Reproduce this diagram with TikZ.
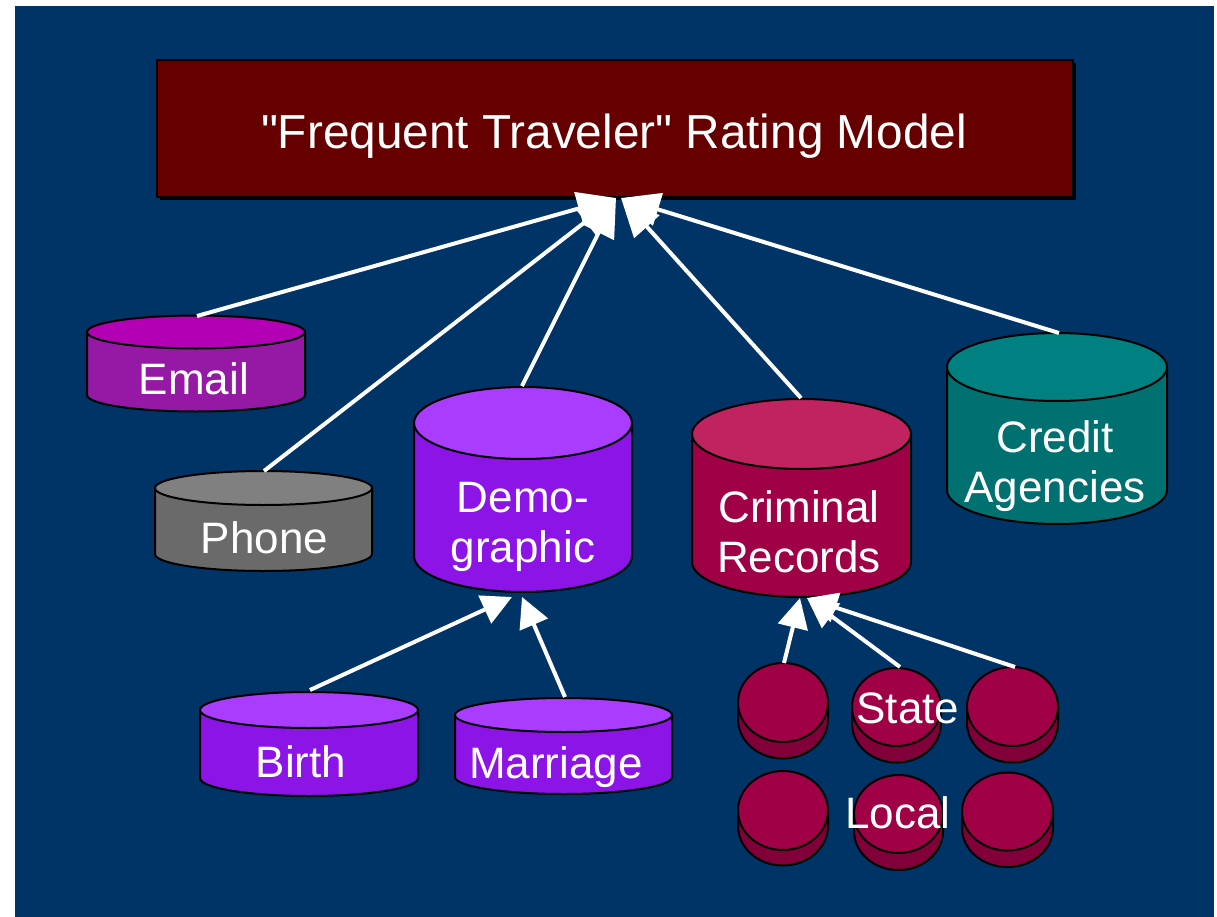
\documentclass[tikz,border=0pt]{standalone}
\usepackage{fontspec}
\setmainfont{Liberation Sans}[Ligatures=TeXOff]
\usetikzlibrary{arrows.meta}

\definecolor{slate}{HTML}{003366}
\definecolor{titlered}{HTML}{660000}
\definecolor{mailtop}{RGB}{180,0,180}
\definecolor{mailside}{RGB}{150,25,165}
\definecolor{phonetop}{RGB}{128,128,128}
\definecolor{phoneside}{RGB}{106,106,106}
\definecolor{violettop}{RGB}{170,60,255}
\definecolor{violetside}{RGB}{140,20,230}
\definecolor{crimtop}{RGB}{192,35,95}
\definecolor{crimside}{RGB}{160,0,70}
\definecolor{tealtop}{RGB}{0,128,128}
\definecolor{tealside}{RGB}{0,112,112}
\definecolor{disctop}{RGB}{160,0,70}
\definecolor{discside}{RGB}{130,0,58}

% A drum / database cylinder:
% #1 centre x, #2 x radius, #3 y of top ellipse, #4 y of bottom ellipse,
% #5 y radius, #6 top colour, #7 side colour
\newcommand\drum[7]{%
  \filldraw[outline, fill=#7] (#1-#2,#3) -- (#1-#2,#4)
    arc[start angle=180, end angle=360, x radius=#2*0.75pt, y radius=#5*0.75pt]
    -- (#1+#2,#3) -- cycle;
  \filldraw[outline, fill=#6] (#1,#3) ellipse[x radius=#2*0.75pt, y radius=#5*0.75pt];
}

\begin{document}
\begin{tikzpicture}[x=0.75pt, y=-0.75pt,
  outline/.style={draw=black, line width=1.5pt, line join=round},
  label/.style={text=white, inner sep=0pt, anchor=base,
                font=\fontsize{33}{37.5}\selectfont},
  titletext/.style={text=white, inner sep=0pt, anchor=base,
                font=\fontsize{35.8}{42}\selectfont},
  titlebox/.style={draw=black, line width=1.5pt, fill=titlered, inner sep=0pt,
                minimum width=687pt, minimum height=102.75pt},
  link/.style={draw=white, line width=3pt, -{Triangle[length=29pt,width=25pt]}},
  sublink/.style={draw=white, line width=3pt, -{Triangle[length=22.5pt,width=22.5pt]}}]

\useasboundingbox (0,0) rectangle (1217,917);
\fill[white] (0,0) rectangle (1217,917);
\fill[slate] (15,6) rectangle (1214,917);

% rating model box with its shadow
\fill[black] (160,63) rectangle (1076,200);
\node[titlebox] (model) at (615,128.5) {};
\node[titletext] (modeltext) at (614,148) {"Frequent Traveler" Rating Model};

% data sources
\drum{196}{109}{332}{395}{16.5}{mailtop}{mailside}
\drum{263.5}{108.5}{488}{554}{17}{phonetop}{phoneside}
\drum{523}{109}{423}{556}{36}{violettop}{violetside}
\drum{801.5}{109.5}{434}{562}{35}{crimtop}{crimside}
\drum{1057}{110}{367}{490}{34}{tealtop}{tealside}
\drum{309}{109}{710}{778}{18}{violettop}{violetside}
\drum{563.5}{108.5}{715}{777}{17}{violettop}{violetside}

% state and local record discs
\drum{783}{45}{702.5}{719}{39.5}{disctop}{discside}
\drum{896.5}{44.5}{707}{723.5}{39}{disctop}{discside}
\drum{1012.5}{45.5}{706.5}{723}{39.5}{disctop}{discside}
\drum{783}{45}{810.5}{826}{39.5}{disctop}{discside}
\drum{898.5}{44.5}{814}{831}{39}{disctop}{discside}
\drum{1007.5}{45.5}{811.5}{828}{39}{disctop}{discside}

% labels
\node[label] (email) at (194,394) {Email};
\node[label] (phone) at (264.5,553) {Phone};
\node[label] (demo) at (523,562) {\begin{tabular}[b]{@{}c@{}}Demo-\\graphic\end{tabular}};
\node[label] (criminal) at (799,572) {\begin{tabular}[b]{@{}c@{}}Criminal\\Records\end{tabular}};
\node[label] (credit) at (1055,502) {\begin{tabular}[b]{@{}c@{}}Credit\\Agencies\end{tabular}};
\node[label] (birth) at (301,777) {Birth};
\node[label] (marriage) at (556,778) {Marriage};
\node[label] (state) at (908,723) {State};
\node[label] (local) at (898,828) {Local};

% connector end points
\coordinate (email-top) at (197,316);
\coordinate (phone-top) at (264,471);
\coordinate (demo-top) at (522,386);
\coordinate (criminal-top) at (801,398);
\coordinate (credit-top) at (1059,333);
\coordinate (birth-top) at (310,690);
\coordinate (marriage-top) at (565,697);
\coordinate (d1-top) at (784,663);
\coordinate (d2-top) at (900,667);
\coordinate (d3-top) at (1015,667);

\coordinate (hubL) at (616,198);
\coordinate (hubR) at (621,198);
\coordinate (demoL) at (512,597);
\coordinate (demoR) at (522,597);
\coordinate (crimL) at (800,598);
\coordinate (crimR) at (807,598);

% connectors
\draw[link] (email-top) -- (hubL);
\draw[link] (phone-top) -- (hubL);
\draw[link] (demo-top) -- (hubL);
\draw[link] (criminal-top) -- (hubR);
\draw[link] (credit-top) -- (hubR);
\draw[sublink] (birth-top) -- (demoL);
\draw[sublink] (marriage-top) -- (demoR);
\draw[sublink] (d1-top) -- (crimL);
\draw[sublink] (d2-top) -- (crimR);
\draw[sublink] (d3-top) -- (crimR);
\end{tikzpicture}
\end{document}
